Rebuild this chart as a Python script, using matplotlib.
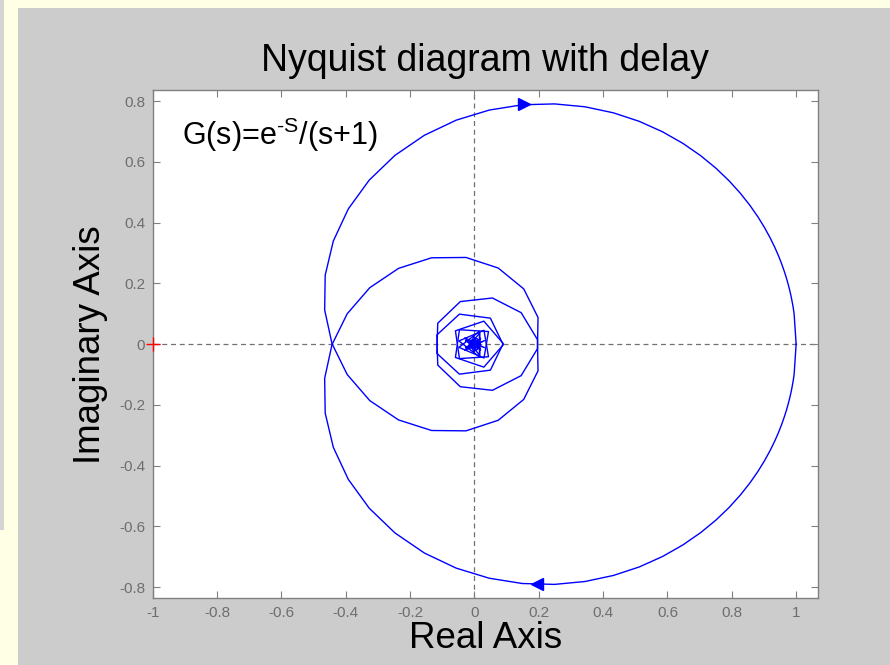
import matplotlib
matplotlib.use('Agg')
import matplotlib.pyplot as plt
from matplotlib.patches import Rectangle

plt.rcParams['font.family'] = ['Liberation Sans', 'DejaVu Sans']
plt.rcParams['mathtext.fontset'] = 'custom'
plt.rcParams['mathtext.rm'] = 'Liberation Sans'

#%% Data: G(jw) for w >= 0 (the w < 0 branch is its mirror image)
re_pos = [1.0000, 0.9938, 0.9924, 0.9908, 0.9887, 0.9862, 0.9832, 0.9795, 0.9750, 0.9696,
          0.9629, 0.9549, 0.9451, 0.9333, 0.9190, 0.9018, 0.8812, 0.8565, 0.8271, 0.7923,
          0.7512, 0.7033, 0.6478, 0.5843, 0.5123, 0.4320, 0.3438, 0.2489, 0.1489, 0.0461,
          -0.0565, -0.1554, -0.2469, -0.3270, -0.3921, -0.4386, -0.4638, -0.4655, -0.4427,
          -0.3954, -0.3252, -0.2358, -0.1332, -0.0261, 0.0740, 0.1533, 0.1977, 0.1960, 0.1453,
          0.0561, -0.0439, -0.1139, -0.1169, -0.0467, 0.0497, 0.0896, 0.0293, -0.0590, -0.0465,
          0.0437, 0.0298, -0.0482, 0.0154, 0.0168, -0.0299, 0.0310, -0.0276, 0.0193, -0.0011,
          -0.0199, 0.0081, 0.0180, 0.0154, 0.0145, 0.0112, -0.0066, -0.0021, 0.0004]
im_pos = [-0.0000, -0.0994, -0.1098, -0.1212, -0.1339, -0.1478, -0.1631, -0.1799, -0.1983, -0.2186,
          -0.2407, -0.2649, -0.2912, -0.3198, -0.3506, -0.3838, -0.4193, -0.4569, -0.4963, -0.5372,
          -0.5790, -0.6207, -0.6614, -0.6996, -0.7338, -0.7618, -0.7817, -0.7912, -0.7883, -0.7709,
          -0.7377, -0.6880, -0.6218, -0.5402, -0.4452, -0.3396, -0.2272, -0.1128, -0.0017,
          0.1001, 0.1860, 0.2496, 0.2844, 0.2855, 0.2507, 0.1820, 0.0880, -0.0150, -0.1037,
          -0.1520, -0.1402, -0.0690, 0.0301, 0.0988, 0.0856, -0.0021, -0.0757, -0.0439, 0.0475,
          0.0415, -0.0456, -0.0105, 0.0419, -0.0367, 0.0209, -0.0114, 0.0116, -0.0190, 0.0245,
          -0.0098, -0.0183, -0.0022, 0.0057, 0.0032, -0.0075, -0.0102, 0.0108, -0.0099]
im_neg = [-v for v in im_pos]

# direction arrows on the curve
arrow_up = (0.155, 0.790)
arrow_down = (0.195, -0.789)

x_ticks = [-1, -0.8, -0.6, -0.4, -0.2, 0, 0.2, 0.4, 0.6, 0.8, 1]
x_labels = ['-1', '-0.8', '-0.6', '-0.4', '-0.2', '0', '0.2', '0.4', '0.6', '0.8', '1']
y_ticks = [-0.8, -0.6, -0.4, -0.2, 0, 0.2, 0.4, 0.6, 0.8]
y_labels = ['-0.8', '-0.6', '-0.4', '-0.2', '0', '0.2', '0.4', '0.6', '0.8']

#%% Figure with the gray panel on a pale yellow page
fig = plt.figure(figsize=(8.9, 6.65), dpi=100, facecolor='#FFFFE6')
fig.patches.append(Rectangle((18 / 890, 0), 1, 1 - 8 / 665, transform=fig.transFigure,
                             facecolor='#CCCCCC', edgecolor='none', zorder=-10))
fig.patches.append(Rectangle((0, 1 - 530 / 665), 3.5 / 890, 530 / 665, transform=fig.transFigure,
                             facecolor='#D4D4D4', edgecolor='none', zorder=-10))

ax = fig.add_axes([152.7 / 890, 1 - 598.3 / 665, (818 - 152.7) / 890, (598.3 - 90) / 665])
ax.set_facecolor('white')
ax.axhline(0, color='#707070', lw=0.9, ls=(0, (4, 3)), zorder=1)
ax.axvline(0, color='#707070', lw=0.9, ls=(0, (4, 3)), zorder=1)

#%% Nyquist curve
ax.plot(re_pos, im_pos, color='#0000FF', lw=1.0, zorder=2)
ax.plot(re_pos, im_neg, color='#0000FF', lw=1.0, zorder=2)
ax.plot([arrow_up[0]], [arrow_up[1]], marker='>', ms=8, color='#0000FF', zorder=3)
ax.plot([arrow_down[0]], [arrow_down[1]], marker='<', ms=8, color='#0000FF', zorder=3)
ax.plot([-1], [0], marker='+', ms=10, mew=1.0, color='red', clip_on=False, zorder=4)

ax.text(-0.91, 0.688, 'G(s)=e$^{\\mathrm{\u2010S}}$/(s+1)', fontsize=22, ha='left', va='center')

ax.set_xlim(-1, 1.068)
ax.set_ylim(-0.837, 0.837)
ax.set_xticks(x_ticks)
ax.set_xticklabels(x_labels)
ax.set_yticks(y_ticks)
ax.set_yticklabels(y_labels)
ax.tick_params(direction='in', top=True, right=True, length=5, width=0.8,
               color='#808080', labelcolor='#6e6e6e', labelsize=11, pad=5.5)
for s in ax.spines.values():
    s.set_color('#808080')
    s.set_linewidth(1.0)

ax.set_title('Nyquist diagram with delay', fontsize=27, pad=14)
ax.set_xlabel('Real Axis', fontsize=26.5, labelpad=1)
ax.set_ylabel('Imaginary Axis', fontsize=26.5, labelpad=8)

fig.savefig('out.png', dpi=100, facecolor=fig.get_facecolor())
